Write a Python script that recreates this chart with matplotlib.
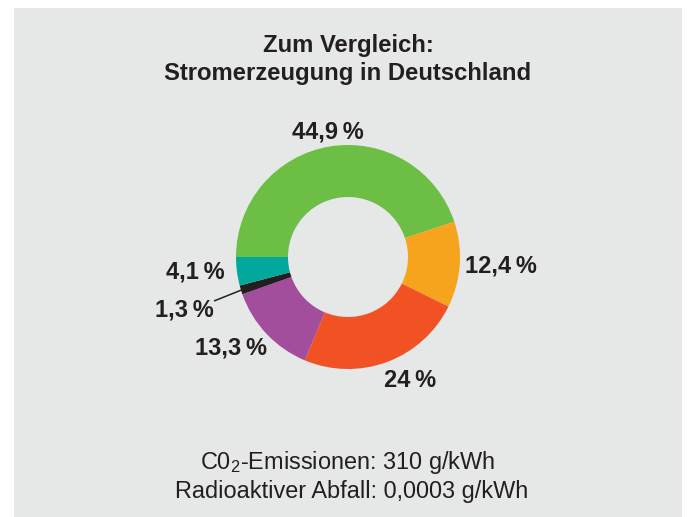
import numpy as np
import matplotlib
matplotlib.use("Agg")
import matplotlib.pyplot as plt
from matplotlib.patches import Rectangle

plt.rcParams['font.family'] = ['Liberation Sans', 'DejaVu Sans']
plt.rcParams['mathtext.fontset'] = 'custom'
plt.rcParams['mathtext.rm'] = 'Liberation Sans'

# data
shares = [44.9, 12.4, 24.0, 13.3, 1.3, 4.1]
labels = ['44,9\u2009%', '12,4\u2009%', '24\u2009%', '13,3\u2009%', '1,3\u2009%', '4,1\u2009%']
colors = ['#6cbe45', '#f6a41d', '#f15123', '#a34e9c', '#231f20', '#00a99b']
title_lines = ['Zum Vergleich:', 'Stromerzeugung in Deutschland']
notes = [r'C0$_\mathregular{2}$-Emissionen: 310 g/kWh', 'Radioaktiver Abfall: 0,0003 g/kWh']

# layout (pixels, y from top)
W, H = 687, 517
cx, cy = 348, 257
R, r_in = 112, 60
label_pos = [(328, 139), (501, 272), (410, 387), (231, 354), (184, 317), (195, 279)]
txt = '#231f20'
bg = '#e6e7e7'

def py(y):
    return H - y

fig = plt.figure(figsize=(W / 100, H / 100), dpi=100)
fig.patches.append(Rectangle((14 / W, 0), (682 - 14) / W, (H - 8) / H,
                             transform=fig.transFigure, facecolor=bg,
                             edgecolor='none', zorder=-1))
ax = fig.add_axes([0, 0, 1, 1])
ax.set_zorder(2)
ax.patch.set_alpha(0)

wedges, _ = ax.pie(shares, colors=colors, startangle=180, counterclock=False,
                   center=(cx, py(cy)), radius=R, frame=True,
                   wedgeprops=dict(width=R - r_in, linewidth=0))

for lab, (lx, ly) in zip(labels, label_pos):
    ax.text(lx, py(ly), lab, ha='center', va='baseline', fontsize=17,
            fontweight='bold', color=txt)

# leader line to the small black slice
w = wedges[4]
mid = np.deg2rad((w.theta1 + w.theta2) / 2)
ex, ey = cx + R * 0.97 * np.cos(mid), py(cy) + R * 0.97 * np.sin(mid)
ax.plot([214, ex], [py(301), ey], color=txt, lw=1.1, solid_capstyle='butt')

ax.text(cx, py(52), title_lines[0], ha='center', va='baseline', fontsize=17.2,
        fontweight='bold', color=txt)
ax.text(cx, py(80), title_lines[1], ha='center', va='baseline', fontsize=17.2,
        fontweight='bold', color=txt)
ax.text(cx, py(469), notes[0], ha='center', va='baseline', fontsize=16.9, color=txt)
ax.text(cx + 4, py(498), notes[1], ha='center', va='baseline', fontsize=16.9, color=txt)

ax.set_xlim(0, W)
ax.set_ylim(0, H)
ax.set_aspect('auto')
ax.axis('off')

fig.savefig('out.png', dpi=100, facecolor='white')
